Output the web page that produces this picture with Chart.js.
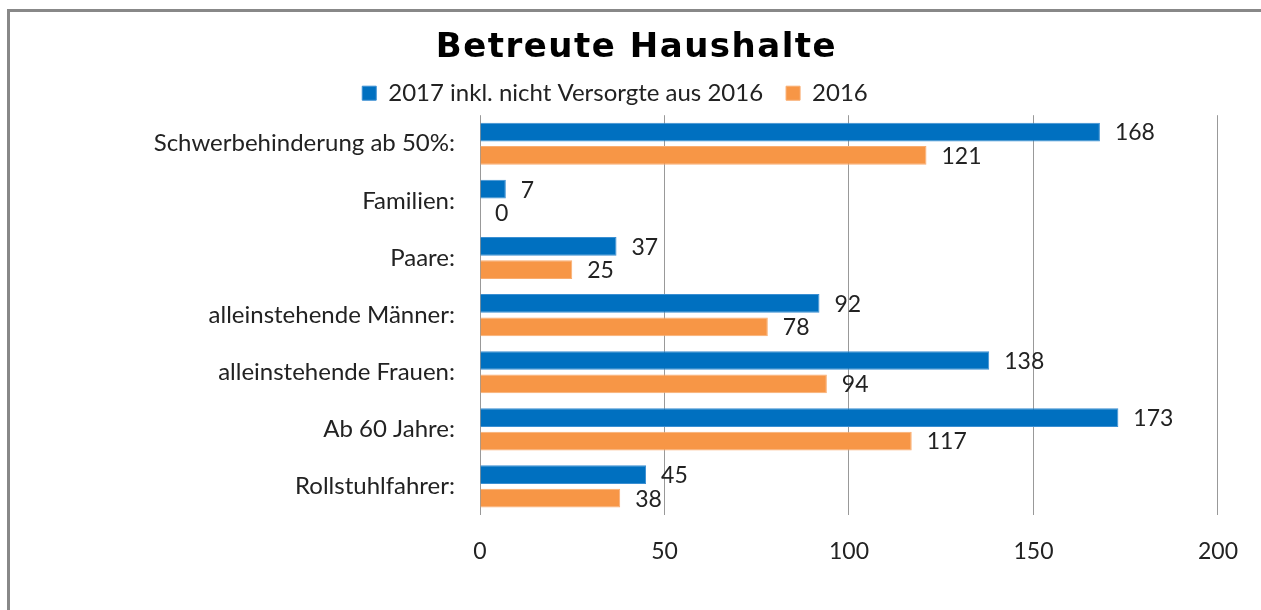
<!DOCTYPE html>
<html>
<head>
<meta charset="utf-8">
<script src="https://cdn.jsdelivr.net/npm/chart.js@4"></script>
<style>
  html, body { margin: 0; padding: 0; background: #fff; overflow: hidden; width: 1261px; height: 610px; }
  #wrap {
    position: absolute; left: 7px; top: 9px; width: 1254px; height: 601px;
    overflow: hidden; box-sizing: border-box;
    border-left: 3px solid #888; border-top: 3px solid #888;
  }
  #edge { position: fixed; right: 0; top: 12px; width: 8px; bottom: 0; background: #fff; }
  canvas { display: block; }
</style>
</head>
<body>
<div id="wrap"><canvas id="chart" width="1251" height="598"></canvas></div>
<div id="edge"></div>
<script>
// Betreute Haushalte - 2017 vs 2016
const categories = [
  "Schwerbehinderung ab 50%:",
  "Familien:",
  "Paare:",
  "alleinstehende Männer:",
  "alleinstehende Frauen:",
  "Ab 60 Jahre:",
  "Rollstuhlfahrer:"
];
const values2017 = [168, 7, 37, 92, 138, 173, 45];
const values2016 = [121, 0, 25, 78, 94, 117, 38];
const xTicks = [0, 50, 100, 150, 200];

const titleText = "Betreute Haushalte";
const labelFont = "Lato";

// value labels to the right of each bar
const barLabels = {
  id: "barLabels",
  afterDatasetsDraw(chart) {
    const ctx = chart.ctx;
    ctx.save();
    ctx.font = "23px " + labelFont;
    ctx.fillStyle = "#222";
    ctx.textAlign = "left";
    ctx.textBaseline = "middle";
    chart.data.datasets.forEach((ds, i) => {
      chart.getDatasetMeta(i).data.forEach((bar, j) => {
        ctx.fillText(ds.data[j], bar.x + 15, bar.y + 1);
      });
    });
    ctx.restore();
  }
};

// wide bold title (Verdana-like), the built-in title only reserves space
const wideTitle = {
  id: "wideTitle",
  afterDraw(chart) {
    const ctx = chart.ctx;
    ctx.save();
    ctx.font = "bold 34px 'DejaVu Sans'";
    ctx.fillStyle = "#000";
    ctx.textAlign = "center";
    ctx.textBaseline = "alphabetic";
    if ("letterSpacing" in ctx) ctx.letterSpacing = "1.5px";
    ctx.fillText(titleText, chart.width / 2 + 1, 45);
    ctx.restore();
  }
};

new Chart(document.getElementById("chart"), {
  type: "bar",
  data: {
    labels: categories,
    datasets: [
      {
        label: "2017 inkl. nicht Versorgte aus 2016",
        data: values2017,
        backgroundColor: "#0070C0",
        borderColor: "#3b8fd2",
        borderWidth: 1
      },
      {
        label: "2016",
        data: values2016,
        backgroundColor: "#F79646",
        borderColor: "#f9ad70",
        borderWidth: 1
      }
    ]
  },
  options: {
    indexAxis: "y",
    responsive: false,
    animation: false,
    categoryPercentage: 0.82,
    barPercentage: 0.8,
    layout: { padding: { left: 0, right: 41, top: 0, bottom: 0 } },
    plugins: {
      title: {
        display: true,
        text: titleText,
        color: "rgba(0,0,0,0)",
        font: { family: "DejaVu Sans", size: 31, weight: "bold", lineHeight: 1.2 },
        padding: { top: 0, bottom: 9 }
      },
      legend: {
        display: true,
        position: "top",
        labels: {
          color: "#222",
          font: { family: labelFont, size: 24 },
          boxWidth: 14,
          boxHeight: 14,
          padding: 23
        }
      },
      tooltip: { enabled: false }
    },
    scales: {
      x: {
        min: 0,
        max: 200,
        afterBuildTicks(scale) {
          scale.ticks = xTicks.map(v => ({ value: v }));
        },
        afterFit(scale) { scale.height = 95; },
        grid: { color: "#999", lineWidth: 1, drawTicks: false },
        border: { display: false },
        ticks: {
          color: "#222",
          font: { family: labelFont, size: 23 },
          padding: 23,
          maxRotation: 0
        }
      },
      y: {
        afterFit(scale) { scale.width = 470; },
        grid: { display: false, drawTicks: false },
        border: { display: false },
        ticks: {
          color: "#222",
          font: { family: labelFont, size: 24 },
          padding: 25
        }
      }
    }
  },
  plugins: [barLabels, wideTitle]
});
</script>
</body>
</html>
